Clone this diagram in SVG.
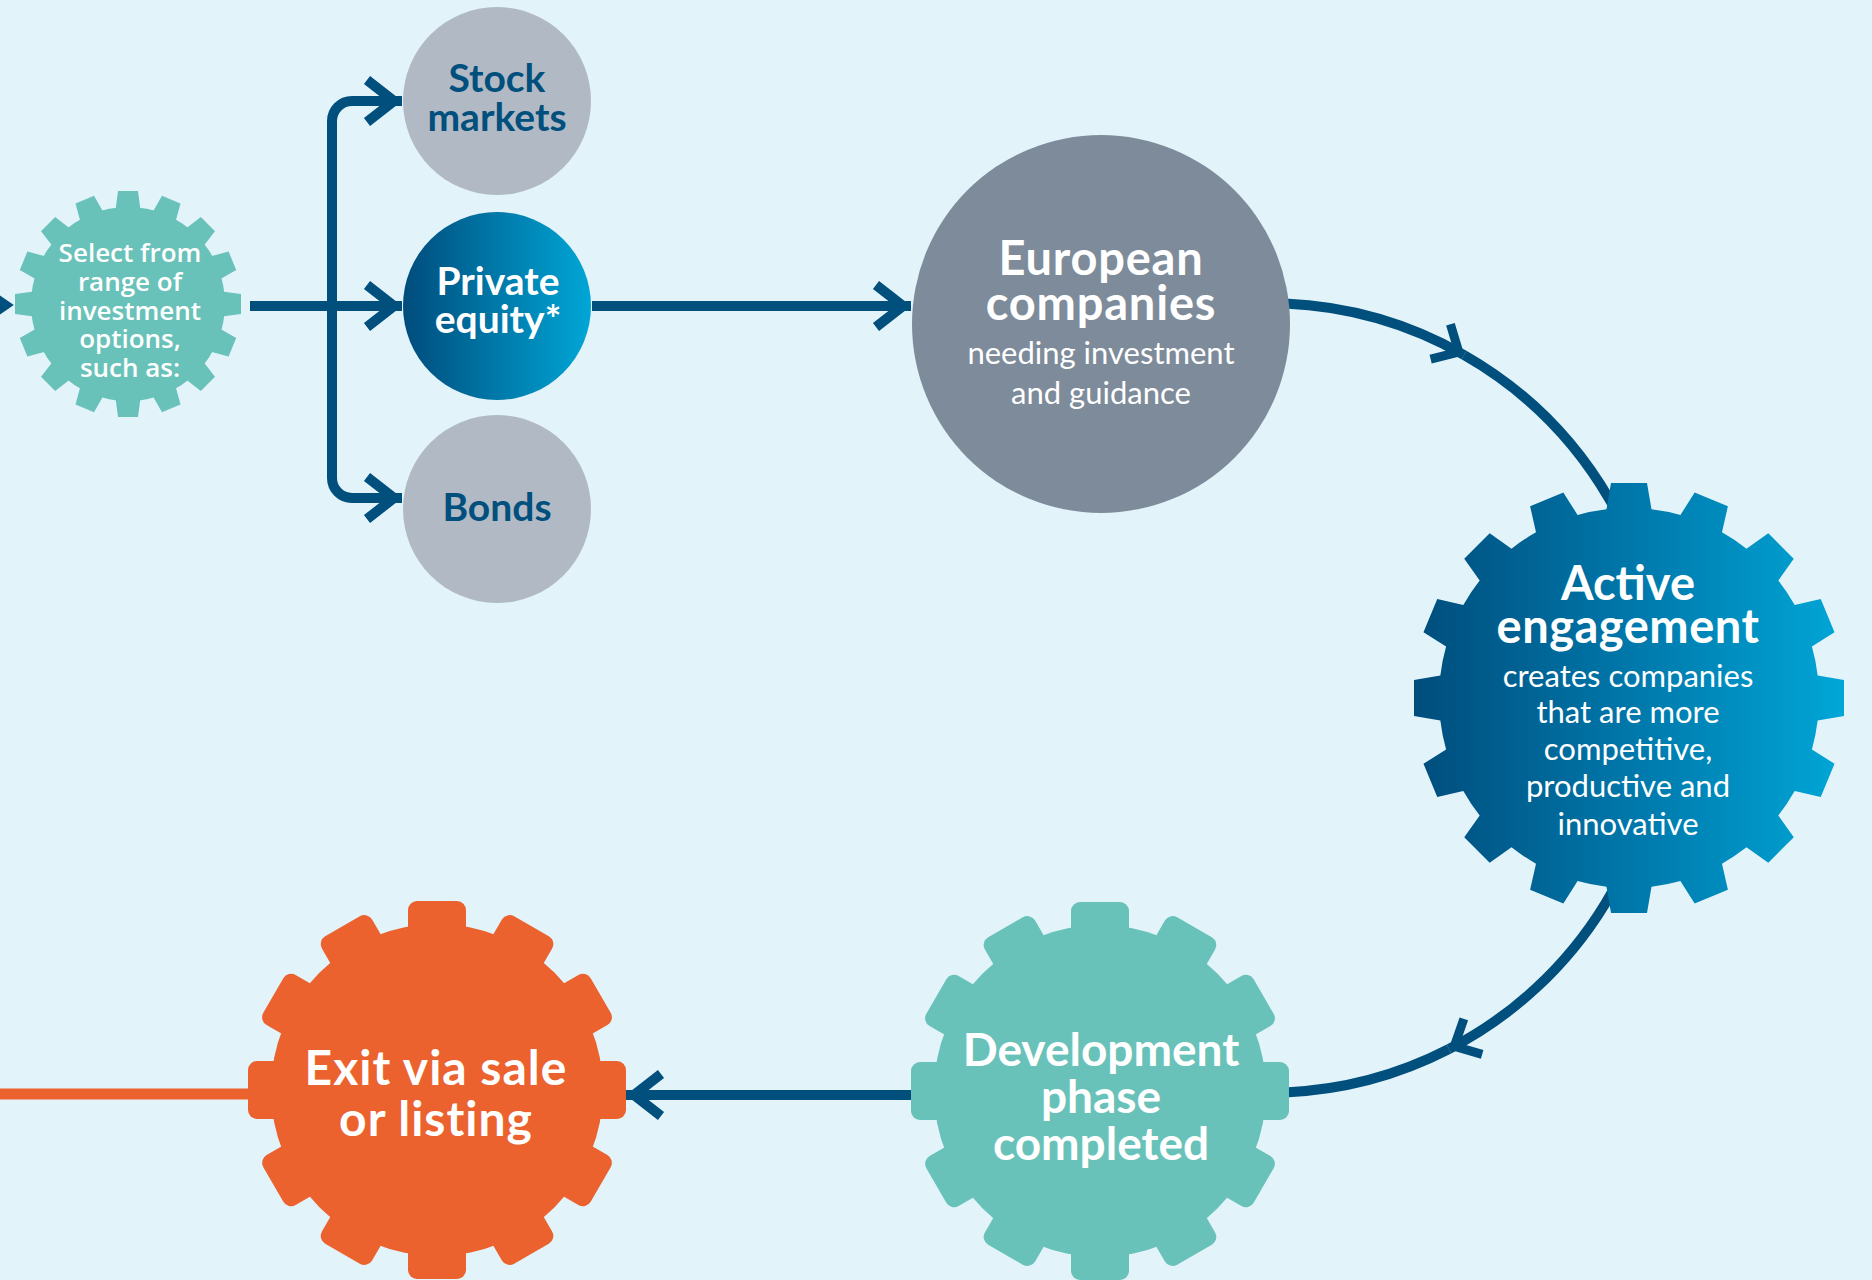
<svg xmlns="http://www.w3.org/2000/svg" xmlns:xlink="http://www.w3.org/1999/xlink" width="1872" height="1280" viewBox="0 0 1872 1280">
<style>
.t{font-family:Lato,"Open Sans","Liberation Sans",sans-serif;text-anchor:middle;fill:#fff}
.b{font-weight:700}
.l{font-weight:400}
.s{font-family:"Open Sans",Lato,"Liberation Sans",sans-serif;font-weight:600;font-size:26px}
.dk{fill:#004F7C}
.ln{fill:none;stroke:#004F7C;stroke-width:10}
</style>
<defs>
<linearGradient id="peGrad" x1="0" y1="0" x2="1" y2="0">
<stop offset="0" stop-color="#004C7C"/>
<stop offset="1" stop-color="#00A6D6"/>
</linearGradient>
<linearGradient id="activeGrad" x1="0" y1="0" x2="1" y2="0">
<stop offset="0" stop-color="#004C7B"/>
<stop offset="0.5" stop-color="#0077AA"/>
<stop offset="1" stop-color="#00A8D8"/>
</linearGradient>
<marker id="chev" markerUnits="userSpaceOnUse" viewBox="-50 -35 60 70" markerWidth="60" markerHeight="70" refX="0" refY="0" orient="auto" overflow="visible">
<path d="M -35 -21 L -8 0 L -35 21" fill="none" stroke="#004F7C" stroke-width="10"/>
</marker>
<marker id="chevS" markerUnits="userSpaceOnUse" viewBox="-50 -35 60 70" markerWidth="60" markerHeight="70" refX="0" refY="0" orient="auto" overflow="visible">
<path d="M -27 -20 L -6 0 L -27 20" fill="none" stroke="#004F7C" stroke-width="9"/>
</marker>
<polygon id="toothS" points="-13,-90 13,-90 10,-113 -10,-113"/>
<rect id="toothE" x="-29" y="-189" width="58" height="46" rx="9"/>
<polygon id="toothA" points="-24,-180 24,-180 18,-215 -18,-215"/>
<clipPath id="activeClip">
<circle cx="1629" cy="698" r="190"/>
<use xlink:href="#toothA" href="#toothA" transform="translate(1629 698) rotate(0)"/>
<use xlink:href="#toothA" href="#toothA" transform="translate(1629 698) rotate(22.5)"/>
<use xlink:href="#toothA" href="#toothA" transform="translate(1629 698) rotate(45)"/>
<use xlink:href="#toothA" href="#toothA" transform="translate(1629 698) rotate(67.5)"/>
<use xlink:href="#toothA" href="#toothA" transform="translate(1629 698) rotate(90)"/>
<use xlink:href="#toothA" href="#toothA" transform="translate(1629 698) rotate(112.5)"/>
<use xlink:href="#toothA" href="#toothA" transform="translate(1629 698) rotate(135)"/>
<use xlink:href="#toothA" href="#toothA" transform="translate(1629 698) rotate(157.5)"/>
<use xlink:href="#toothA" href="#toothA" transform="translate(1629 698) rotate(180)"/>
<use xlink:href="#toothA" href="#toothA" transform="translate(1629 698) rotate(202.5)"/>
<use xlink:href="#toothA" href="#toothA" transform="translate(1629 698) rotate(225)"/>
<use xlink:href="#toothA" href="#toothA" transform="translate(1629 698) rotate(247.5)"/>
<use xlink:href="#toothA" href="#toothA" transform="translate(1629 698) rotate(270)"/>
<use xlink:href="#toothA" href="#toothA" transform="translate(1629 698) rotate(292.5)"/>
<use xlink:href="#toothA" href="#toothA" transform="translate(1629 698) rotate(315)"/>
<use xlink:href="#toothA" href="#toothA" transform="translate(1629 698) rotate(337.5)"/>
</clipPath>
</defs>
<rect width="1872" height="1280" fill="#E2F3FA"/>

<g id="connectors">
<path class="ln" d="M -27 283 L 5 305 L -27 327"/>
<path class="ln" d="M 250 306 H 402" marker-end="url(#chev)"/>
<path class="ln" d="M 332 306 V 121 A 20 20 0 0 1 352 101 H 402" marker-end="url(#chev)"/>
<path class="ln" d="M 332 306 V 478 A 20 20 0 0 0 352 498 H 402" marker-end="url(#chev)"/>
<path class="ln" d="M 592 306 H 911" marker-end="url(#chev)"/>
<path class="ln" stroke-width="9" d="M 1285 303.6 A 395 395 0 0 1 1464 355" marker-end="url(#chevS)"/>
<path class="ln" stroke-width="9" d="M 1464 355 A 395 395 0 0 1 1663 698"/>
<path class="ln" stroke-width="9" d="M 1663 698 A 395 395 0 0 1 1449 1049" marker-end="url(#chevS)"/>
<path class="ln" stroke-width="9" d="M 1449 1049 A 395 395 0 0 1 1285 1092.4"/>
<path class="ln" d="M 930 1095 H 626" marker-end="url(#chev)"/>
<path fill="none" stroke="#EC622F" stroke-width="11" d="M 0 1094 H 270"/>
</g>

<g id="node-select" fill="#69C2B9">
<g transform="translate(128 304)">
<circle r="97"/>
<use href="#toothS" transform="rotate(0)"/>
<use href="#toothS" transform="rotate(22.5)"/>
<use href="#toothS" transform="rotate(45)"/>
<use href="#toothS" transform="rotate(67.5)"/>
<use href="#toothS" transform="rotate(90)"/>
<use href="#toothS" transform="rotate(112.5)"/>
<use href="#toothS" transform="rotate(135)"/>
<use href="#toothS" transform="rotate(157.5)"/>
<use href="#toothS" transform="rotate(180)"/>
<use href="#toothS" transform="rotate(202.5)"/>
<use href="#toothS" transform="rotate(225)"/>
<use href="#toothS" transform="rotate(247.5)"/>
<use href="#toothS" transform="rotate(270)"/>
<use href="#toothS" transform="rotate(292.5)"/>
<use href="#toothS" transform="rotate(315)"/>
<use href="#toothS" transform="rotate(337.5)"/>
</g>
<text class="t s" x="130" y="262">Select from</text>
<text class="t s" x="130" y="291">range of</text>
<text class="t s" x="130" y="320">investment</text>
<text class="t s" x="130" y="348">options,</text>
<text class="t s" x="130" y="377">such as:</text>
</g>

<g id="node-stock">
<circle cx="497" cy="101" r="94" fill="#B1B9C4"/>
<text class="t b dk" font-size="39" x="497" y="92">Stock</text>
<text class="t b dk" font-size="39" x="497" y="131">markets</text>
</g>

<g id="node-private">
<circle cx="497" cy="306" r="94" fill="url(#peGrad)"/>
<text class="t b" font-size="39" x="498" y="295">Private</text>
<text class="t b" font-size="39" x="498" y="333">equity*</text>
</g>

<g id="node-bonds">
<circle cx="497" cy="509" r="94" fill="#B1B9C4"/>
<text class="t b dk" font-size="39" x="497" y="521">Bonds</text>
</g>

<g id="node-european">
<circle cx="1101" cy="324" r="189" fill="#7E8B9A"/>
<text class="t b" font-size="47" letter-spacing="0.8" x="1101" y="275">European</text>
<text class="t b" font-size="47" letter-spacing="0.8" x="1101" y="320">companies</text>
<text class="t l" font-size="31" x="1101" y="364">needing investment</text>
<text class="t l" font-size="31" x="1101" y="404">and guidance</text>
</g>

<g id="node-active">
<rect x="1410" y="480" width="440" height="440" fill="url(#activeGrad)" clip-path="url(#activeClip)"/>
<text class="t b" font-size="47" x="1628" y="600">Active</text>
<text class="t b" font-size="47" letter-spacing="0.5" x="1628" y="643">engagement</text>
<text class="t l" font-size="31" x="1628" y="687">creates companies</text>
<text class="t l" font-size="31" x="1628" y="723">that are more</text>
<text class="t l" font-size="31" x="1628" y="760">competitive,</text>
<text class="t l" font-size="31" x="1628" y="797">productive and</text>
<text class="t l" font-size="31" x="1628" y="835">innovative</text>
</g>

<g id="node-development" fill="#69C2B9">
<g transform="translate(1100 1091)">
<circle r="166"/>
<use href="#toothE" transform="rotate(0)"/>
<use href="#toothE" transform="rotate(30)"/>
<use href="#toothE" transform="rotate(60)"/>
<use href="#toothE" transform="rotate(90)"/>
<use href="#toothE" transform="rotate(120)"/>
<use href="#toothE" transform="rotate(150)"/>
<use href="#toothE" transform="rotate(180)"/>
<use href="#toothE" transform="rotate(210)"/>
<use href="#toothE" transform="rotate(240)"/>
<use href="#toothE" transform="rotate(270)"/>
<use href="#toothE" transform="rotate(300)"/>
<use href="#toothE" transform="rotate(330)"/>
</g>
<text class="t b" font-size="46" x="1101" y="1066">Development</text>
<text class="t b" font-size="46" x="1101" y="1113">phase</text>
<text class="t b" font-size="46" x="1101" y="1160">completed</text>
</g>

<g id="node-exit" fill="#EC622F">
<g transform="translate(437 1090)">
<circle r="166"/>
<use href="#toothE" transform="rotate(0)"/>
<use href="#toothE" transform="rotate(30)"/>
<use href="#toothE" transform="rotate(60)"/>
<use href="#toothE" transform="rotate(90)"/>
<use href="#toothE" transform="rotate(120)"/>
<use href="#toothE" transform="rotate(150)"/>
<use href="#toothE" transform="rotate(180)"/>
<use href="#toothE" transform="rotate(210)"/>
<use href="#toothE" transform="rotate(240)"/>
<use href="#toothE" transform="rotate(270)"/>
<use href="#toothE" transform="rotate(300)"/>
<use href="#toothE" transform="rotate(330)"/>
</g>
<text class="t b" font-size="48" letter-spacing="1" x="436" y="1085">Exit via sale</text>
<text class="t b" font-size="48" letter-spacing="1" x="436" y="1136">or listing</text>
</g>
</svg>
